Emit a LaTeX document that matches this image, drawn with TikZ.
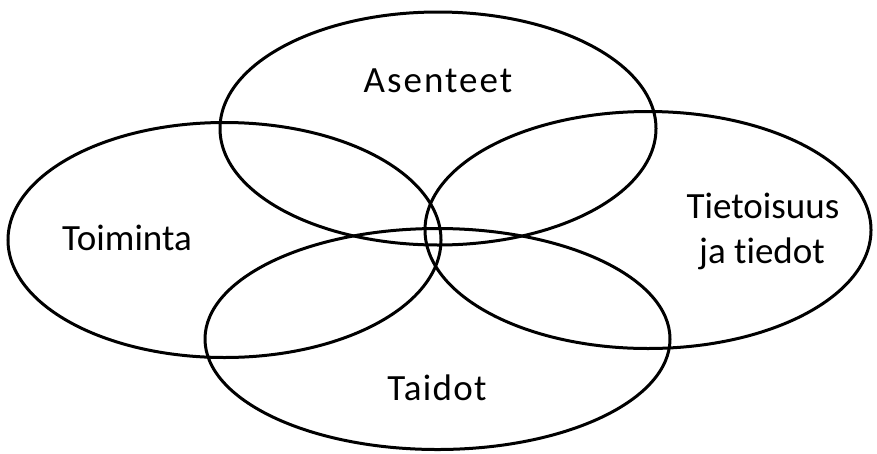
\documentclass[tikz,border=0pt]{standalone}
\usepackage{fontspec}
\setmainfont[Ligatures=NoCommon]{Carlito}
\usetikzlibrary{shapes.geometric}
\tikzset{
  blob/.style={ellipse, draw=black, line width=3pt, inner sep=0pt},
  lbl/.style={anchor=base, inner sep=0pt, font=\fontsize{37}{45}\selectfont}
}
\begin{document}
\begin{tikzpicture}[x=1pt,y=-1pt]
\useasboundingbox (0,0) rectangle (877,453);
\node[blob, minimum width=436pt, minimum height=233pt] (ase) at (438,128.5) {};
\node[blob, minimum width=433pt, minimum height=235pt] (toi) at (224.5,240) {};
\node[blob, minimum width=446pt, minimum height=237pt] (tie) at (648,230) {};
\node[blob, minimum width=465pt, minimum height=221pt] (tai) at (437.5,339) {};
\node[lbl] (tase) at (438,92) {\addfontfeature{LetterSpace=5.5}Asenteet};
\node[lbl] (ttoi) at (127,250) {Toiminta};
\node[lbl] (ttie1) at (763,218) {Tietoisuus};
\node[lbl] (ttie2) at (762,263) {ja tiedot};
\node[lbl] (ttai) at (437,400) {\addfontfeature{LetterSpace=3.5}Taidot};
\end{tikzpicture}
\end{document}
